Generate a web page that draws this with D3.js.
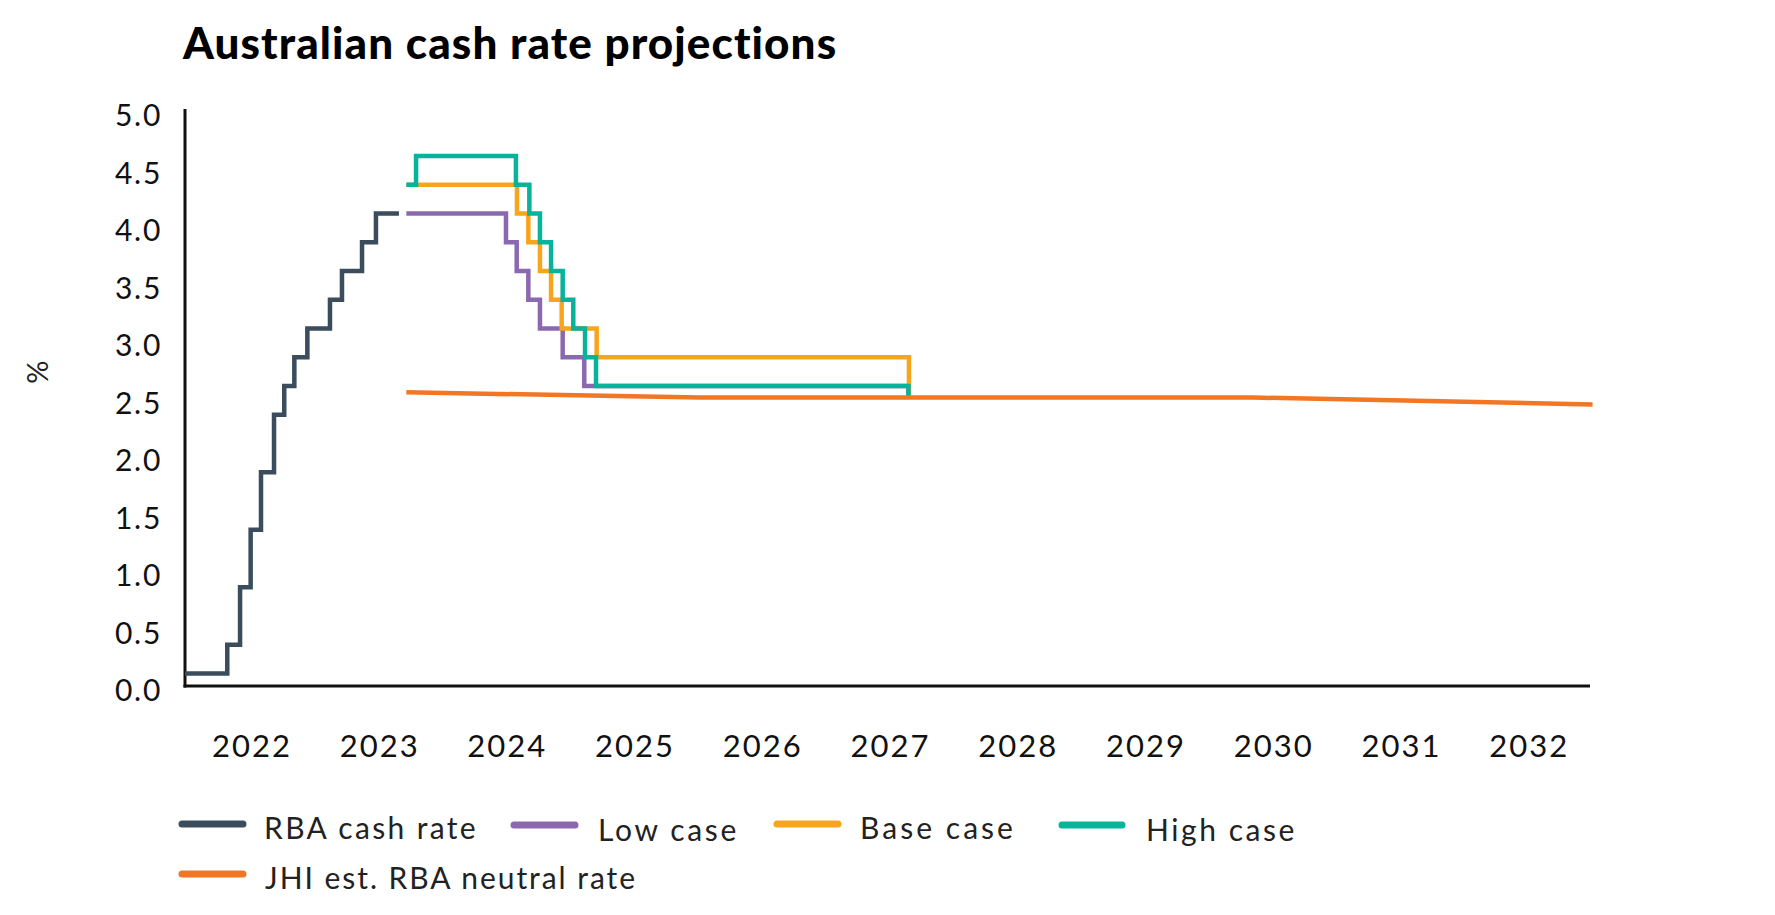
<!DOCTYPE html>
<html>
<head>
<meta charset="utf-8">
<script src="https://cdn.jsdelivr.net/npm/d3@7/dist/d3.min.js"></script>
<style>
  html, body { margin: 0; padding: 0; background: #ffffff; }
  svg { display: block; }
  text { font-family: Lato, "Open Sans", sans-serif; }
</style>
</head>
<body>
<svg id="chart" width="1775" height="915"></svg>
<script>
// ---------- data ----------
const titleText = "Australian cash rate projections";
const yAxisTitle = "%";
const yearTicks = [2022, 2023, 2024, 2025, 2026, 2027, 2028, 2029, 2030, 2031, 2032];
const yTicks = [0, 0.5, 1, 1.5, 2, 2.5, 3, 3.5, 4, 4.5, 5];
const seriesNames = ["RBA cash rate", "Low case", "Base case", "High case", "JHI est. RBA neutral rate"];

// dates as decimal years, rates in %
const rbaDates = [2022.0, 2022.331, 2022.431, 2022.514, 2022.595, 2022.697, 2022.777, 2022.856, 2022.958, 2023.135, 2023.229, 2023.386, 2023.495, 2023.675];
const rbaRates = [0.1, 0.35, 0.85, 1.35, 1.85, 2.35, 2.6, 2.85, 3.1, 3.35, 3.6, 3.85, 4.1, 4.1];

const lowDates = [2023.733, 2024.513, 2024.597, 2024.688, 2024.779, 2024.957, 2025.126, 2027.664];
const lowRates = [4.1, 3.85, 3.6, 3.35, 3.1, 2.85, 2.6, 2.5];

const baseDates = [2023.733, 2024.599, 2024.688, 2024.779, 2024.866, 2024.949, 2025.223, 2027.668];
const baseRates = [4.35, 4.1, 3.85, 3.6, 3.35, 3.1, 2.85, 2.5];

const highDates = [2023.733, 2023.809, 2024.591, 2024.696, 2024.779, 2024.866, 2024.957, 2025.040, 2025.132, 2025.218, 2027.664];
const highRates = [4.35, 4.6, 4.35, 4.1, 3.85, 3.6, 3.35, 3.1, 2.85, 2.6, 2.5];

const neutralDates = [2023.733, 2026.03, 2030.36, 2033.02];
const neutralRates = [2.545, 2.50, 2.50, 2.44];

// ---------- styling ----------
const colors = ["#3b4c5c", "#8b69b1", "#f8a51e", "#08b39b", "#f37624"];

const svg = d3.select("#chart");
svg.append("rect").attr("width", 1775).attr("height", 915).attr("fill", "#fff");

const x = d3.scaleLinear().domain([2022, 2033]).range([185, 1590]);
const y = d3.scaleLinear().domain([0, 5]).range([685, 110]);

function fitWidth(sel, target) {
  sel.each(function () {
    const t = d3.select(this);
    t.style("letter-spacing", "0px");
    const len = this.getComputedTextLength();
    const n = this.textContent.length;
    if (n > 1) t.style("letter-spacing", ((target - len) / n) + "px");
  });
}

// title
svg.append("text")
  .attr("x", 183).attr("y", 59)
  .attr("font-size", 44).attr("font-weight", 900).attr("fill", "#000")
  .text(titleText)
  .call(fitWidth, 655);

// y axis title
svg.append("text")
  .attr("transform", "translate(48,372) rotate(-90)")
  .attr("text-anchor", "middle")
  .attr("font-size", 29).attr("fill", "#222")
  .text(yAxisTitle);

// y axis
const yAxis = svg.append("g")
  .attr("transform", "translate(185,0)")
  .call(d3.axisLeft(y).tickValues(yTicks).tickSize(0).tickPadding(23).tickFormat(d3.format(".1f")));
yAxis.select(".domain").attr("stroke", "#111").attr("stroke-width", 3)
  .attr("d", `M0,${y(5) - 1}V${y(0) + 2.5}`);
yAxis.selectAll("text")
  .attr("font-size", 30).attr("fill", "#111").attr("dy", "0.52em")
  .style("font-family", "Lato, sans-serif");
yAxis.selectAll("text").each(function () {
  const t = d3.select(this);
  t.style("letter-spacing", "0px");
  const len = this.getComputedTextLength();
  t.style("letter-spacing", ((47 - len) / 3) + "px");
});

// x axis
const xAxis = svg.append("g")
  .attr("transform", `translate(0,${y(0) + 1})`)
  .call(d3.axisBottom(x).tickValues(yearTicks.map(d => d + 0.52)).tickSize(0).tickPadding(49)
    .tickFormat(d => String(Math.round(d - 0.52))));
xAxis.select(".domain").attr("stroke", "#111").attr("stroke-width", 3)
  .attr("d", `M${x(2022) - 1.5},0H${x(2033)}`);
xAxis.selectAll("text")
  .attr("font-size", 31).attr("fill", "#111")
  .style("font-family", "Lato, sans-serif");
xAxis.selectAll("text").call(fitWidth, 80);

// lines
const seriesData = [
  { dates: rbaDates, rates: rbaRates, step: true },
  { dates: lowDates, rates: lowRates, step: true },
  { dates: baseDates, rates: baseRates, step: true },
  { dates: highDates, rates: highRates, step: true },
  { dates: neutralDates, rates: neutralRates, step: false }
];

seriesData.forEach((s, i) => {
  const pts = s.dates.map((d, j) => [d, s.rates[j]]);
  const line = d3.line()
    .x(d => x(d[0])).y(d => y(d[1]))
    .curve(s.step ? d3.curveStepAfter : d3.curveLinear);
  svg.append("path")
    .datum(pts)
    .attr("d", line)
    .attr("fill", "none")
    .attr("stroke", colors[i])
    .attr("stroke-width", 4.5)
    .attr("stroke-linejoin", "miter");
});

// legend
const legendLayout = [
  { x1: 182, x2: 243, ly: 824, tx: 264, ty: 839, w: 214 },
  { x1: 514, x2: 575, ly: 825, tx: 598, ty: 841, w: 141 },
  { x1: 777, x2: 838, ly: 824, tx: 860, ty: 839, w: 156 },
  { x1: 1062, x2: 1122, ly: 825, tx: 1146, ty: 841, w: 151 },
  { x1: 182, x2: 243, ly: 874, tx: 265, ty: 889, w: 372 }
];
const leg = svg.append("g");
seriesNames.forEach((name, i) => {
  const L = legendLayout[i];
  leg.append("line")
    .attr("x1", L.x1).attr("x2", L.x2).attr("y1", L.ly).attr("y2", L.ly)
    .attr("stroke", colors[i]).attr("stroke-width", 7).attr("stroke-linecap", "round");
  leg.append("text")
    .attr("x", L.tx).attr("y", L.ty)
    .attr("font-size", 30).attr("fill", "#222")
    .text(name)
    .call(fitWidth, L.w);
});
</script>
</body>
</html>
